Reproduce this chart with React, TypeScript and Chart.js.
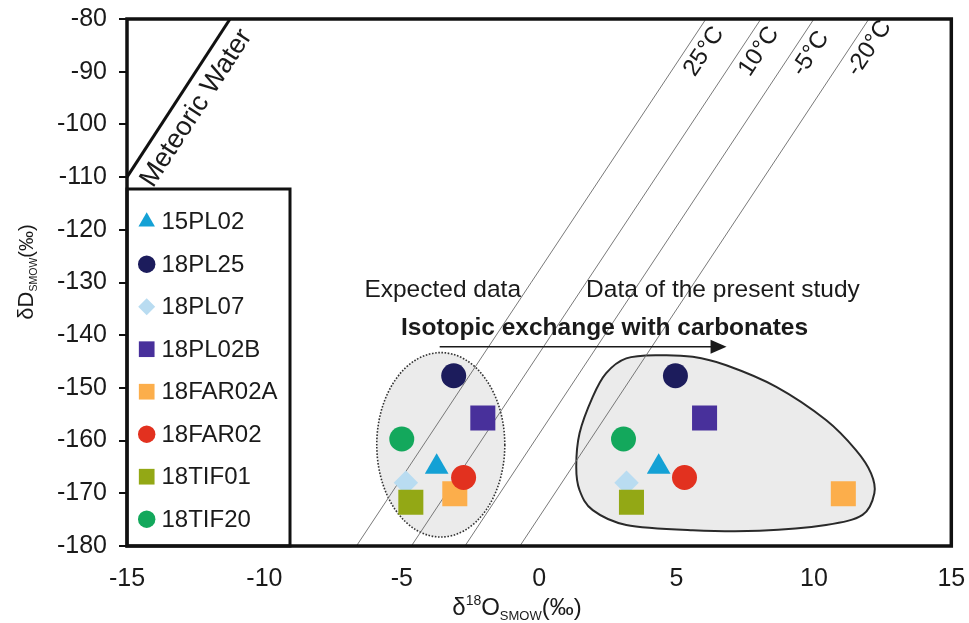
import React, { useEffect, useRef } from 'react';
import { Chart, registerables } from 'chart.js';
import { drawPoint } from 'chart.js/helpers';

Chart.register(...registerables);

const FONT = '"Liberation Sans", Arial, sans-serif';

// ---- data ----
const sampleNames = ['15PL02', '18PL25', '18PL07', '18PL02B', '18FAR02A', '18FAR02', '18TIF01', '18TIF20'];
const sampleColors = ['#14a1d5', '#1c1c5c', '#b9dcf1', '#48309b', '#fcae4b', '#e2311f', '#93a815', '#13a85c'];
const sampleShapes = ['triangle', 'circle', 'rectRot', 'rect', 'rect', 'circle', 'rect', 'circle'];
const expectedO18 = [-3.73, -3.11, -4.85, -2.05, -3.07, -2.75, -4.67, -5.0];
const measuredO18 = [4.35, 4.96, 3.18, 6.02, 11.07, 5.29, 3.36, 3.07];
const sampleD = [-165.0, -147.7, -168.0, -155.7, -170.1, -167.0, -171.7, -159.7];

const xTicks = [-15, -10, -5, 0, 5, 10, 15];
const yTicks = [-80, -90, -100, -110, -120, -130, -140, -150, -160, -170, -180];

const meteoricO18 = [-15, -11.25];
const meteoricD = [-110, -80];

const isoLabels = ['25°C', '10°C', '-5°C', '-20°C'];
const isoStartO18 = [-6.65, -4.65, -2.7, -0.7];
const isoEndO18 = [6.07, 8.07, 10.0, 12.0];
const isoD = [-180, -80];

const ellipseCenter = [-3.58, -160.8];
const ellipseRadii = [2.33, 17.5];

const blobO18 = [4.38, 5.59, 6.81, 8.63, 10.44, 11.53, 12.08, 12.2, 11.77, 10.44, 8.02, 5.59, 3.17, 1.95, 1.47, 1.35, 1.47, 1.95, 2.44, 3.17];
const blobD = [-143.8, -144.1, -145.7, -149.8, -156.1, -161.8, -166.2, -170.0, -174.1, -176.0, -177.1, -177.0, -176.0, -173.2, -169.4, -165.0, -158.6, -151.7, -147.2, -144.4];

const arrowO18 = [-3.62, 6.82];
const arrowD = -142.2;

const shapeRadius: Record<string, number> = { circle: 12.5, rect: 17.7, rectRot: 12.2, triangle: 13.7 };
const legendRadius: Record<string, number> = { circle: 8.7, rect: 11.1, rectRot: 8.5, triangle: 9.5 };

function drawSubSup(ctx: CanvasRenderingContext2D, parts: { t: string; size: number; dy: number }[], x: number, y: number, align: 'center' | 'left') {
  let total = 0;
  for (const p of parts) {
    ctx.font = `${p.size}px ${FONT}`;
    total += ctx.measureText(p.t).width;
  }
  let cx = align === 'center' ? x - total / 2 : x;
  ctx.textAlign = 'left';
  ctx.textBaseline = 'alphabetic';
  for (const p of parts) {
    ctx.font = `${p.size}px ${FONT}`;
    ctx.fillText(p.t, cx, y + p.dy);
    cx += ctx.measureText(p.t).width;
  }
}

const annotationPlugin = {
  id: 'annotations',
  beforeDatasetsDraw(chart: any) {
    const { ctx, chartArea, scales } = chart;
    const xs = scales.x, ys = scales.y;
    ctx.save();
    ctx.beginPath();
    ctx.rect(chartArea.left, chartArea.top, chartArea.right - chartArea.left, chartArea.bottom - chartArea.top);
    ctx.clip();
    // ellipse of expected data
    const ecx = xs.getPixelForValue(ellipseCenter[0]);
    const ecy = ys.getPixelForValue(ellipseCenter[1]);
    const erx = Math.abs(xs.getPixelForValue(ellipseCenter[0] + ellipseRadii[0]) - ecx);
    const ery = Math.abs(ys.getPixelForValue(ellipseCenter[1] + ellipseRadii[1]) - ecy);
    ctx.beginPath();
    ctx.ellipse(ecx, ecy, erx, ery, 0, 0, Math.PI * 2);
    ctx.fillStyle = '#ebebeb';
    ctx.fill();
    ctx.setLineDash([1.6, 1.6]);
    ctx.lineWidth = 1.6;
    ctx.strokeStyle = '#333';
    ctx.stroke();
    ctx.setLineDash([]);
    // blob of present data (closed Catmull-Rom)
    const pts = blobO18.map((v, i) => [xs.getPixelForValue(v), ys.getPixelForValue(blobD[i])]);
    const n = pts.length;
    ctx.beginPath();
    ctx.moveTo(pts[0][0], pts[0][1]);
    for (let i = 0; i < n; i++) {
      const p0 = pts[(i - 1 + n) % n], p1 = pts[i], p2 = pts[(i + 1) % n], p3 = pts[(i + 2) % n];
      const c1x = p1[0] + (p2[0] - p0[0]) / 6, c1y = p1[1] + (p2[1] - p0[1]) / 6;
      const c2x = p2[0] - (p3[0] - p1[0]) / 6, c2y = p2[1] - (p3[1] - p1[1]) / 6;
      ctx.bezierCurveTo(c1x, c1y, c2x, c2y, p2[0], p2[1]);
    }
    ctx.closePath();
    ctx.fillStyle = '#ebebeb';
    ctx.fill();
    ctx.lineWidth = 2;
    ctx.strokeStyle = '#2a2a2a';
    ctx.stroke();
    ctx.restore();
  },
  afterDatasetsDraw(chart: any) {
    const { ctx, chartArea, scales } = chart;
    const xs = scales.x, ys = scales.y;
    ctx.save();
    ctx.fillStyle = '#1a1a1a';
    // texts
    ctx.font = `24.5px ${FONT}`;
    ctx.textAlign = 'center';
    ctx.textBaseline = 'middle';
    ctx.fillText('Expected data', xs.getPixelForValue(-3.51), ys.getPixelForValue(-131.4));
    ctx.fillText('Data of the present study', xs.getPixelForValue(6.69), ys.getPixelForValue(-131.4));
    ctx.font = `bold 24.5px ${FONT}`;
    ctx.fillText('Isotopic exchange with carbonates', xs.getPixelForValue(2.38), ys.getPixelForValue(-138.6));
    // arrow
    const ax1 = xs.getPixelForValue(arrowO18[0]);
    const ax2 = xs.getPixelForValue(arrowO18[1]);
    const ay = ys.getPixelForValue(arrowD);
    ctx.strokeStyle = '#1a1a1a';
    ctx.lineWidth = 1.6;
    ctx.beginPath();
    ctx.moveTo(ax1, ay);
    ctx.lineTo(ax2 - 14, ay);
    ctx.stroke();
    ctx.beginPath();
    ctx.moveTo(ax2, ay);
    ctx.lineTo(ax2 - 16, ay - 7);
    ctx.lineTo(ax2 - 16, ay + 7);
    ctx.closePath();
    ctx.fill();
    // labels along lines
    const labelAlong = (text: string, x1: number, y1: number, x2: number, y2: number, along: number, off: number) => {
      const bx = xs.getPixelForValue(x1), by = ys.getPixelForValue(y1);
      const tx = xs.getPixelForValue(x2), ty = ys.getPixelForValue(y2);
      const len = Math.hypot(tx - bx, ty - by);
      const ux = (tx - bx) / len, uy = (ty - by) / len;
      const nx = -uy, ny = ux;
      const px = tx - along * ux + off * nx;
      const py = ty - along * uy + off * ny;
      ctx.save();
      ctx.translate(px, py);
      ctx.rotate(Math.atan2(uy, ux));
      ctx.textAlign = 'left';
      ctx.textBaseline = 'alphabetic';
      ctx.fillText(text, 0, 0);
      ctx.restore();
    };
    ctx.font = `24px ${FONT}`;
    isoLabels.forEach((t, i) => labelAlong(t, isoStartO18[i], isoD[0], isoEndO18[i], isoD[1], 55, 23));
    ctx.font = `27px ${FONT}`;
    labelAlong('Meteoric Water', meteoricO18[0], meteoricD[0], meteoricO18[1], meteoricD[1], 184, 28);
    // legend box
    const lx1 = chartArea.left, lx2 = 290, ly1 = 189, ly2 = chartArea.bottom;
    ctx.fillStyle = '#fff';
    ctx.fillRect(lx1, ly1, lx2 - lx1, ly2 - ly1);
    ctx.lineWidth = 3;
    ctx.strokeStyle = '#111';
    ctx.strokeRect(lx1, ly1, lx2 - lx1, ly2 - ly1);
    sampleNames.forEach((name, i) => {
      const y = 221.7 + i * 42.5;
      ctx.fillStyle = sampleColors[i];
      drawPoint(ctx, { pointStyle: sampleShapes[i] as any, radius: legendRadius[sampleShapes[i]], rotation: 0, borderWidth: 0 } as any, 146.7, y);
      ctx.fillStyle = '#1a1a1a';
      ctx.font = `24px ${FONT}`;
      ctx.textAlign = 'left';
      ctx.textBaseline = 'middle';
      ctx.fillText(name, 161.5, y + 1);
    });
    // frame
    ctx.lineWidth = 3.5;
    ctx.strokeStyle = '#111';
    ctx.strokeRect(chartArea.left, chartArea.top, chartArea.right - chartArea.left, chartArea.bottom - chartArea.top);
    ctx.restore();
  },
  afterDraw(chart: any) {
    const { ctx } = chart;
    ctx.save();
    ctx.fillStyle = '#1a1a1a';
    drawSubSup(ctx, [
      { t: 'δ', size: 24, dy: 0 },
      { t: '18', size: 14, dy: -10 },
      { t: 'O', size: 24, dy: 0 },
      { t: 'SMOW', size: 13, dy: 5 },
      { t: '(‰)', size: 24, dy: 0 },
    ], 517, 615, 'center');
    ctx.translate(33, 272);
    ctx.rotate(-Math.PI / 2);
    drawSubSup(ctx, [
      { t: 'δD', size: 22, dy: 0 },
      { t: 'SMOW', size: 10.5, dy: 4 },
      { t: '(‰)', size: 20, dy: 0 },
    ], 0, 0, 'center');
    ctx.restore();
  },
};

export default function App() {
  const ref = useRef<HTMLCanvasElement>(null);
  useEffect(() => {
    if (!ref.current) return;
    const lineSets: any[] = [
      {
        label: 'Meteoric Water',
        data: meteoricO18.map((x, i) => ({ x, y: meteoricD[i] })),
        showLine: true, borderColor: '#111', borderWidth: 3, pointRadius: 0, order: 100,
      },
      ...isoLabels.map((l, i) => ({
        label: l,
        data: [{ x: isoStartO18[i], y: isoD[0] }, { x: isoEndO18[i], y: isoD[1] }],
        showLine: true, borderColor: '#6a6a6a', borderWidth: 0.9, pointRadius: 0, order: 100,
      })),
    ];
    const pointSets: any[] = sampleNames.map((name, i) => ({
      label: name,
      data: [{ x: expectedO18[i], y: sampleD[i] }, { x: measuredO18[i], y: sampleD[i] }],
      showLine: false,
      pointStyle: sampleShapes[i],
      pointRadius: shapeRadius[sampleShapes[i]],
      pointHoverRadius: shapeRadius[sampleShapes[i]],
      pointBackgroundColor: sampleColors[i],
      pointBorderColor: sampleColors[i],
      pointBorderWidth: 0,
      order: 50 - i,
    }));
    const chart = new Chart(ref.current, {
      type: 'scatter',
      data: { datasets: [...lineSets, ...pointSets] },
      options: {
        responsive: false,
        animation: false,
        events: [],
        layout: { padding: { left: 0, top: 19, right: 17, bottom: 0 } },
        plugins: { legend: { display: false }, tooltip: { enabled: false } },
        scales: {
          x: {
            type: 'linear', min: -15, max: 15,
            afterBuildTicks: (s: any) => { s.ticks = xTicks.map((v) => ({ value: v })); },
            afterFit: (s: any) => { s.height = 77; s.paddingLeft = 0; s.paddingRight = 0; },
            grid: { display: true, drawOnChartArea: false, drawTicks: false },
            border: { display: false },
            ticks: { font: { family: FONT, size: 25 }, color: '#1a1a1a', padding: 18, callback: (v: any) => String(v), maxRotation: 0 },
          },
          y: {
            type: 'linear', min: -180, max: -80,
            afterBuildTicks: (s: any) => { s.ticks = yTicks.map((v) => ({ value: v })); },
            afterFit: (s: any) => { s.width = 127; s.paddingTop = 0; s.paddingBottom = 0; },
            grid: { display: true, drawOnChartArea: false, drawTicks: true, tickLength: 8, color: '#111', lineWidth: 2 },
            border: { display: false },
            ticks: { font: { family: FONT, size: 25 }, color: '#1a1a1a', padding: 12, callback: (v: any) => String(v) },
          },
        },
      } as any,
      plugins: [annotationPlugin as any],
    });
    return () => chart.destroy();
  }, []);
  return (
    <div style={{ position: 'fixed', left: 0, top: 0, width: 969, height: 623, background: '#fff' }}>
      <canvas ref={ref} width={969} height={623} style={{ display: 'block' }} />
    </div>
  );
}
